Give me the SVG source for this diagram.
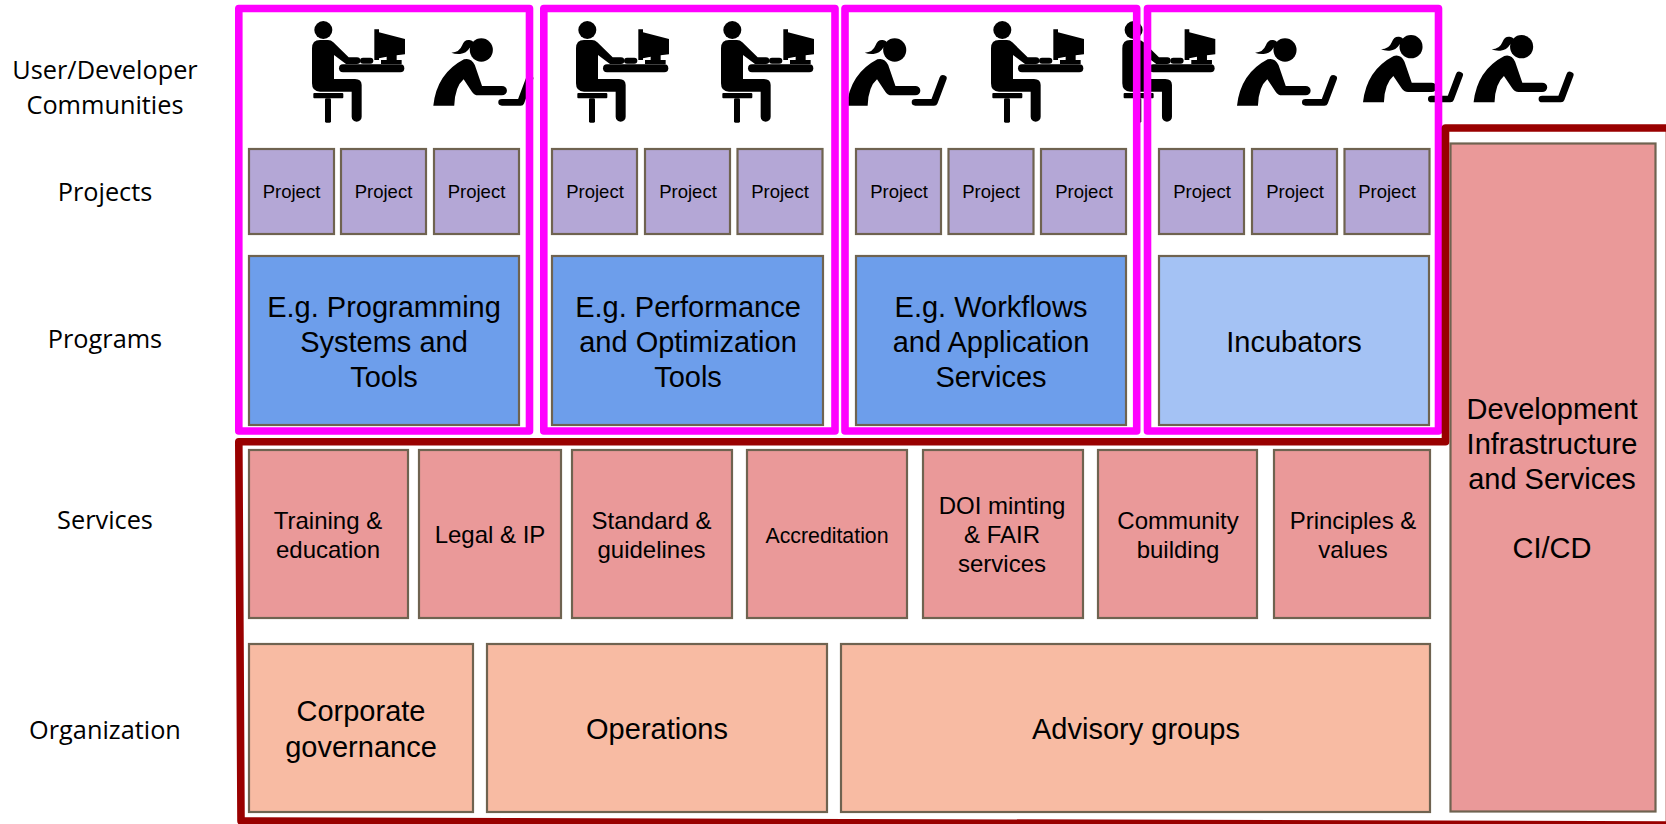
<svg xmlns="http://www.w3.org/2000/svg" width="1666" height="824" viewBox="0 0 1666 824">
<style>
text{font-family:"Liberation Sans",Arial,sans-serif;fill:#000;text-anchor:middle}
.lab{font-family:"Open Sans","Noto Sans",sans-serif;font-size:25.300px}
.b{stroke:#6f6350;stroke-width:2.200}
.p{fill:#b4a7d6}.blue{fill:#6d9eeb}.lb{fill:#a4c2f4}.r{fill:#ea9999}.o{fill:#f8bba3}
.pt{font-size:18.500px}.st{font-size:24px}.bt{font-size:29px}
.fm{fill:none;stroke:#ff00ff;stroke-width:7.600;stroke-linejoin:round}
.fr{fill:none;stroke:#990000;stroke-width:7.600;stroke-linejoin:round}
</style>
<defs>
<g id="man" transform="scale(.3333)">
<circle cx="34" cy="90" r="27"/>
<path d="M24 120Q0 120 0 145V250Q0 275 24 275H119V350A15 15 0 0 0 149 350V255Q149 237 129 237H66V165L102 192H135A10 10 0 0 0 135 172H110L64 127Q57 120 48 120Z"/>
<rect x="81" y="193" width="196" height="24" rx="12"/>
<rect x="144" y="173" width="40" height="18" rx="9"/>
<path d="M187 88H201V97L279 117V163L254 166V180H269V192H207V180H224V170L201 175V180H187Z"/>
<rect x="4" y="279" width="90" height="16" rx="3"/>
<rect x="39" y="295" width="18" height="73" rx="4"/>
</g>
<g id="woman" transform="scale(.361,.3333)">
<ellipse cx="133" cy="150" rx="32" ry="35"/>
<path d="M50 158Q72 158 80 136Q86 118 100 120Q112 122 112 132L100 145Q92 160 74 162Q60 163 50 158Z"/>
<path d="M0 317Q10 220 85 178Q105 172 115 195L135 258H190A14 14 0 0 1 190 286H125Q113 286 107 275L84 238Q60 260 58 317Z"/>
<path d="M190 307H242L267 235" fill="none" stroke="#000" stroke-width="20" stroke-linecap="round" stroke-linejoin="round"/>
</g>
</defs>
<g id="icons">
<use href="#man" x="312" y="0"/><use href="#woman" x="433.300" y="0"/>
<use href="#man" x="576" y="0"/><use href="#man" x="721" y="0"/>
<use href="#woman" x="846.700" y="0"/><use href="#man" x="991" y="0"/>
<use href="#man" x="1122.300" y="0"/><use href="#woman" x="1237" y="0"/>
<use href="#woman" x="1363" y="-3.300"/><use href="#woman" x="1473.600" y="-3.300"/>
</g>
<g id="row-labels">
<text class="lab" x="105" y="79">User/Developer</text>
<text class="lab" x="105" y="114">Communities</text>
<text class="lab" x="105" y="201">Projects</text>
<text class="lab" x="105" y="348">Programs</text>
<text class="lab" x="105" y="529">Services</text>
<text class="lab" x="105" y="739">Organization</text>
</g>
<g id="projects">
<rect class="b p" x="249" y="149" width="85" height="85"/><text class="pt" x="291.500" y="198">Project</text>
<rect class="b p" x="341" y="149" width="85" height="85"/><text class="pt" x="383.500" y="198">Project</text>
<rect class="b p" x="434" y="149" width="85" height="85"/><text class="pt" x="476.500" y="198">Project</text>
<rect class="b p" x="552" y="149" width="85" height="85"/><text class="pt" x="595" y="198">Project</text>
<rect class="b p" x="645" y="149" width="85" height="85"/><text class="pt" x="688" y="198">Project</text>
<rect class="b p" x="737.500" y="149" width="85" height="85"/><text class="pt" x="780" y="198">Project</text>
<rect class="b p" x="856" y="149" width="85" height="85"/><text class="pt" x="899" y="198">Project</text>
<rect class="b p" x="948.500" y="149" width="85" height="85"/><text class="pt" x="991" y="198">Project</text>
<rect class="b p" x="1041" y="149" width="85" height="85"/><text class="pt" x="1084" y="198">Project</text>
<rect class="b p" x="1159" y="149" width="85" height="85"/><text class="pt" x="1202" y="198">Project</text>
<rect class="b p" x="1252" y="149" width="85" height="85"/><text class="pt" x="1295" y="198">Project</text>
<rect class="b p" x="1344.500" y="149" width="85" height="85"/><text class="pt" x="1387" y="198">Project</text>
</g>
<g id="programs">
<g id="prog1"><rect class="b blue" x="249" y="256" width="270" height="169"/><text class="bt" x="384" y="317">E.g. Programming</text><text class="bt" x="384" y="352">Systems and</text><text class="bt" x="384" y="387">Tools</text></g>
<g id="prog2"><rect class="b blue" x="552" y="256" width="271" height="169"/><text class="bt" x="688" y="317">E.g. Performance</text><text class="bt" x="688" y="352">and Optimization</text><text class="bt" x="688" y="387">Tools</text></g>
<g id="prog3"><rect class="b blue" x="856" y="256" width="270" height="169"/><text class="bt" x="991" y="317">E.g. Workflows</text><text class="bt" x="991" y="352">and Application</text><text class="bt" x="991" y="387">Services</text></g>
<g id="prog4"><rect class="b lb" x="1159" y="256" width="270" height="169"/><text class="bt" x="1294" y="352">Incubators</text></g>
</g>
<g id="services">
<g id="s1"><rect class="b r" x="249" y="450" width="159" height="168"/><text class="st" x="328" y="529">Training &amp;</text><text class="st" x="328" y="558">education</text></g>
<g id="s2"><rect class="b r" x="419" y="450" width="142" height="168"/><text class="st" x="490" y="543">Legal &amp; IP</text></g>
<g id="s3"><rect class="b r" x="572" y="450" width="160" height="168"/><text class="st" x="651.500" y="529">Standard &amp;</text><text class="st" x="651.500" y="558">guidelines</text></g>
<g id="s4"><rect class="b r" x="747" y="450" width="160" height="168"/><text class="st" style="font-size:21.300px" x="827" y="543">Accreditation</text></g>
<g id="s5"><rect class="b r" x="923" y="450" width="160" height="168"/><text class="st" x="1002" y="514">DOI minting</text><text class="st" x="1002" y="543">&amp; FAIR</text><text class="st" x="1002" y="572">services</text></g>
<g id="s6"><rect class="b r" x="1098" y="450" width="159" height="168"/><text class="st" x="1178" y="529">Community</text><text class="st" x="1178" y="558">building</text></g>
<g id="s7"><rect class="b r" x="1274" y="450" width="156" height="168"/><text class="st" x="1353" y="529">Principles &amp;</text><text class="st" x="1353" y="558">values</text></g>
</g>
<g id="organization">
<g id="o1"><rect class="b o" x="249" y="644" width="224" height="168"/><text class="bt" x="361" y="721">Corporate</text><text class="bt" x="361" y="757">governance</text></g>
<g id="o2"><rect class="b o" x="487" y="644" width="340" height="168"/><text class="bt" x="657" y="739">Operations</text></g>
<g id="o3"><rect class="b o" x="841" y="644" width="589" height="168"/><text class="bt" x="1136" y="739">Advisory groups</text></g>
</g>
<g id="infrastructure"><rect class="b r" x="1450.500" y="143.500" width="205" height="668"/>
<text class="bt" x="1552" y="419">Development</text><text class="bt" x="1552" y="454">Infrastructure</text><text class="bt" x="1552" y="489">and Services</text><text class="bt" x="1552" y="558">CI/CD</text></g>
<g id="frames">
<rect class="fm" x="238.800" y="8.500" width="290.700" height="422.500"/>
<rect class="fm" x="543.800" y="8.500" width="291.200" height="422.500"/>
<rect class="fm" x="845" y="8.500" width="291.700" height="422.500"/>
<rect class="fm" x="1147.500" y="8.500" width="291" height="422.500"/>
<path class="fr" d="M238.800 441.700H1445.500V128H1669.500V825L241 821Z"/>
</g>
</svg>
